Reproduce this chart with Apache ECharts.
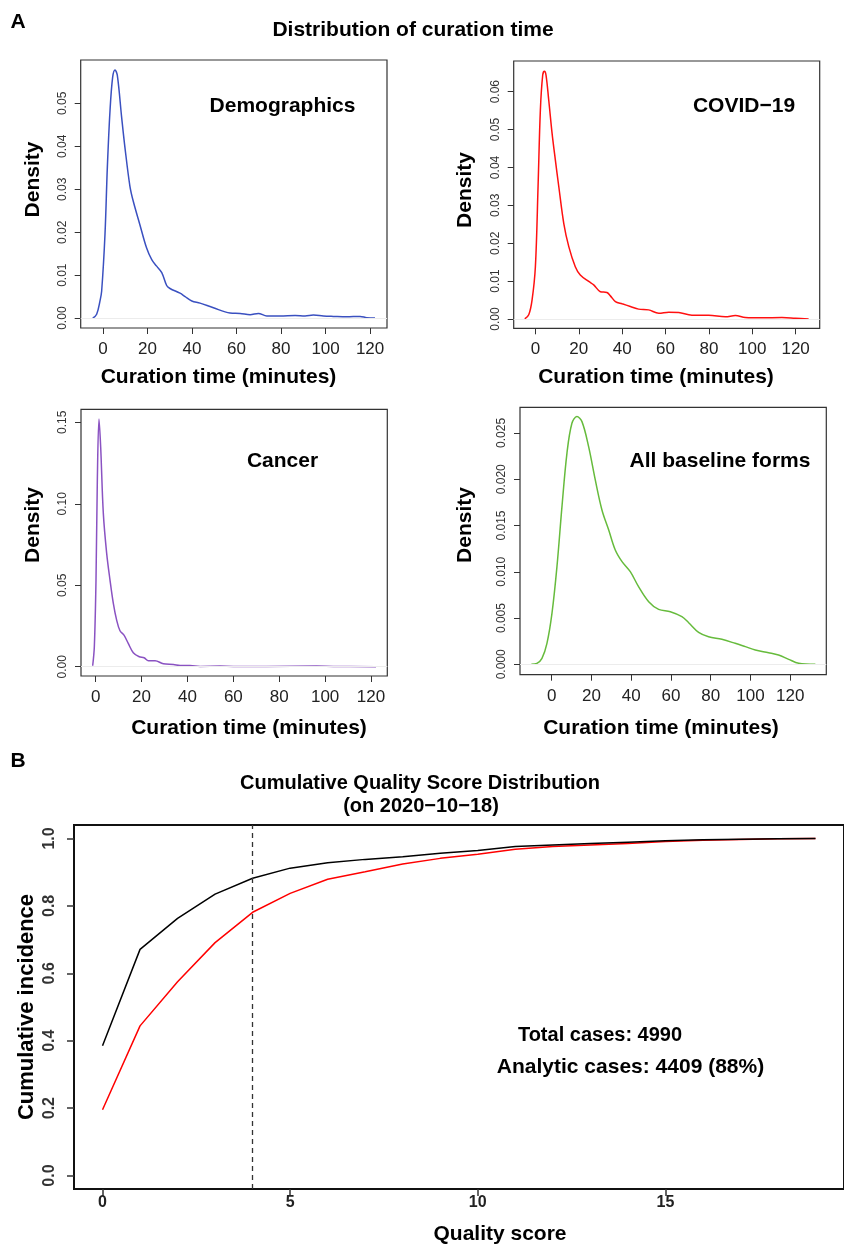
<!DOCTYPE html>
<html><head><meta charset="utf-8">
<script src="https://cdn.jsdelivr.net/npm/echarts@6/dist/echarts.min.js"></script>
<style>html,body{margin:0;padding:0;background:#fff}#c{width:844px;height:1246px}</style>
</head><body><div id="c"></div>
<script>
// ---------- DATA ----------
const demoX = [-4.6,-2.85,-1.35,-0.6,0.9,1.95,3.15,4.34,5.39,6.44,8.39,9.89,12.1,13.6,16.6,19.6,21.9,24.1,26.4,28.6,30.1,34.6,36.9,39.9,43.6,49.6,57.1,61.6,66.1,69.8,73.6,79.6,86.3,90.8,94.5,99.0,103.5,109.5,115.5,118.5,122.2];
const demoY = [0,0.0009,0.0040,0.0063,0.0196,0.0351,0.0483,0.0561,0.0578,0.0565,0.0467,0.0396,0.0307,0.0272,0.0217,0.0163,0.0136,0.0121,0.0106,0.0076,0.0069,0.0058,0.0050,0.0040,0.0035,0.0024,0.0012,0.0011,0.0008,0.0011,0.0005,0.0005,0.0006,0.0005,0.0007,0.0005,0.0004,0.0003,0.0004,0.0001,0];

const covidX = [-4.9,-3.07,-1.54,0,1.23,2.3,3.38,4.15,4.9,6.15,7.7,9.2,10.8,13.1,15.4,18.4,20.7,24.6,26.9,29.96,33.0,34.6,36.9,40.0,43.8,47.6,52.2,56.9,61.5,66.1,72.2,79.9,87.6,92.2,96.8,104.5,113.7,119.9,126.0];
const covidY = [0,0.0011,0.0050,0.0138,0.0349,0.0552,0.0644,0.0654,0.0644,0.0578,0.0490,0.0420,0.0349,0.0252,0.0191,0.0138,0.0116,0.0099,0.0090,0.0072,0.0070,0.0061,0.0046,0.0040,0.0033,0.0026,0.0024,0.0015,0.0018,0.0017,0.0010,0.0010,0.0006,0.0009,0.0004,0.0003,0.0004,0.0002,0];

const cancerX = [-1.3,-0.58,0.15,0.73,1.45,2.18,3.34,4.8,6.25,7.7,9.15,10.6,12.35,14.2,16.4,19.0,21.1,23.0,25.9,29.5,33.9,36.8,41.1,45.5,54.2,60.0,74.5,96.3,103.6,122.2];
const cancerY = [0.0006,0.0123,0.0532,0.1146,0.152,0.135,0.0941,0.0696,0.0532,0.0389,0.0286,0.0221,0.0194,0.0143,0.0086,0.0061,0.0055,0.0037,0.0037,0.0018,0.0014,0.0008,0.0008,0.0002,0.0004,0.0002,0.0002,0.0004,0.0002,0];

const allX = [-10.2,-7.4,-4.86,-2.35,0.17,2.68,5.2,7.7,10.2,12.7,15.25,18.6,21.95,25.3,28.7,32.0,35.4,39.55,43.7,48.8,53.8,59.7,65.5,68.9,73.9,78.9,85.6,92.3,97.4,102.4,109.1,114.1,119.2,124.2,132.6];
const allY = [0,0.0001,0.00065,0.00227,0.0055,0.01055,0.01704,0.0228,0.02604,0.02677,0.02622,0.02352,0.01992,0.01668,0.01452,0.01236,0.0111,0.01001,0.0084,0.00677,0.00594,0.00569,0.00515,0.0045,0.00346,0.00299,0.0027,0.00227,0.00191,0.00155,0.00126,0.00101,0.00054,0.00011,0];

const qualityScores = [0,1,2,3,4,5,6,7,8,9,10,11,12,13,14,15,16,17,18,19];
const totalCum    = [0.385,0.671,0.763,0.835,0.882,0.912,0.928,0.938,0.946,0.956,0.964,0.976,0.981,0.985,0.989,0.993,0.996,0.998,0.999,1.0];
const analyticCum = [0.195,0.444,0.575,0.691,0.781,0.837,0.879,0.901,0.924,0.941,0.953,0.968,0.976,0.981,0.985,0.991,0.995,0.997,0.999,1.0];
const qualityCutoff = 4;

// tick values and labels
const timeTicks = [0,20,40,60,80,100,120];
const timeTickLabels = ['0','20','40','60','80','100','120'];
const demoTicks = [0,0.01,0.02,0.03,0.04,0.05];
const demoTickLabels = ['0.00','0.01','0.02','0.03','0.04','0.05'];
const covidTicks = [0,0.01,0.02,0.03,0.04,0.05,0.06];
const covidTickLabels = ['0.00','0.01','0.02','0.03','0.04','0.05','0.06'];
const cancerTicks = [0,0.05,0.10,0.15];
const cancerTickLabels = ['0.00','0.05','0.10','0.15'];
const allTicks = [0,0.005,0.010,0.015,0.020,0.025];
const allTickLabels = ['0.000','0.005','0.010','0.015','0.020','0.025'];
const scoreTicks = [0,5,10,15];
const scoreTickLabels = ['0','5','10','15'];
const incTicks = [0,0.2,0.4,0.6,0.8,1.0];
const incTickLabels = ['0.0','0.2','0.4','0.6','0.8','1.0'];

// ---------- BUILD ----------
const FONT = 'Liberation Sans, Arial, Helvetica, sans-serif';
function pairs(xs, ys){ return xs.map((x,i)=>[x, ys[i]]); }
function lookup(ticks, labels){
  return function(v){
    let best=0, bd=Infinity;
    ticks.forEach((t,i)=>{const d=Math.abs(t-v); if(d<bd){bd=d;best=i;}});
    return labels[best];
  };
}
function xAx(gi, min, max, ticks, labels, o){
  o = o || {};
  return {
    type:'value', gridIndex:gi, min:min, max:max, position:'bottom',
    axisLine:{show:false, onZero:false}, splitLine:{show:false},
    axisTick:{show:true, inside:false, length:o.tickLen||6, customValues:ticks, lineStyle:{color:'#333', width:o.tickW||1}},
    axisLabel:{show:true, customValues:ticks, formatter:lookup(ticks,labels), margin:o.margin||13,
      fontSize:o.fs||17, fontWeight:o.fw||'normal', color:'#222', fontFamily:FONT}
  };
}
function yAx(gi, min, max, ticks, labels, o){
  o = o || {};
  return {
    type:'value', gridIndex:gi, min:min, max:max, position:'left',
    axisLine:{show:false, onZero:false}, splitLine:{show:false},
    axisTick:{show:true, inside:false, length:o.tickLen||6, customValues:ticks, lineStyle:{color:'#333', width:o.tickW||1}},
    axisLabel:{show:true, customValues:ticks, formatter:lookup(ticks,labels), rotate:90, margin:o.margin||12,
      fontSize:o.fs||12, fontWeight:o.fw||'normal', color:'#333', fontFamily:FONT}
  };
}
function zeroLine(){
  return {silent:true, symbol:['none','none'], label:{show:false},
    lineStyle:{color:'#ececec', width:1, type:'solid'}, data:[{yAxis:0}]};
}
function dens(gi, xs, ys, color){
  return {type:'line', xAxisIndex:gi, yAxisIndex:gi, data:pairs(xs,ys), smooth:0.35,
    showSymbol:false, symbol:'none', lineStyle:{color:color, width:1.5}, markLine:zeroLine(), z:3};
}
function txt(t, x, y, fs, rot){
  return {type:'text', x:x, y:y, rotation:rot||0, silent:true,
    style:{text:t, font:'bold '+fs+'px '+FONT, fill:'#000', align:'center', verticalAlign:'middle',
      textAlign:'center', textVerticalAlign:'middle'}};
}

const boxA = {show:true, borderColor:'#333', borderWidth:1.2, backgroundColor:'transparent'};
const option = {
  animation:false,
  backgroundColor:'#fff',
  grid:[
    Object.assign({left:80.7, top:60, width:306.3, height:268}, boxA),
    Object.assign({left:513.7, top:61, width:306, height:267.3}, boxA),
    Object.assign({left:81, top:409.3, width:306.3, height:266.7}, boxA),
    Object.assign({left:520, top:407.3, width:306.3, height:267.4}, boxA),
    {left:74, top:825, width:780, height:364, show:true, borderColor:'#111', borderWidth:2, backgroundColor:'transparent'}
  ],
  xAxis:[
    xAx(0, -10.02, 127.6, timeTicks, timeTickLabels),
    xAx(1, -10.0, 131.1, timeTicks, timeTickLabels),
    xAx(2, -6.39, 127.1, timeTicks, timeTickLabels),
    xAx(3, -15.9, 138.1, timeTicks, timeTickLabels),
    xAx(4, -0.76, 19.76, scoreTicks, scoreTickLabels, {fs:16, fw:'bold', margin:6, tickLen:7, tickW:1.5})
  ],
  yAxis:[
    yAx(0, -0.0023, 0.0601, demoTicks, demoTickLabels),
    yAx(1, -0.00246, 0.0681, covidTicks, covidTickLabels),
    yAx(2, -0.0057, 0.158, cancerTicks, cancerTickLabels),
    yAx(3, -0.00112, 0.02777, allTicks, allTickLabels),
    yAx(4, -0.04, 1.04, incTicks, incTickLabels, {fs:16, fw:'bold', margin:16, tickLen:7, tickW:1.5})
  ],
  series:[
    dens(0, demoX, demoY, '#3a50c0'),
    dens(1, covidX, covidY, '#ff1010'),
    dens(2, cancerX, cancerY, '#8a52c2'),
    dens(3, allX, allY, '#66bb3c'),
    {type:'line', xAxisIndex:4, yAxisIndex:4, data:pairs(qualityScores,totalCum), showSymbol:false, symbol:'none',
      lineStyle:{color:'#000', width:1.5}, z:4,
      markLine:{silent:true, symbol:['none','none'], label:{show:false},
        lineStyle:{color:'#333', width:1.3, type:[5,4]}, data:[{xAxis:qualityCutoff}]}},
    {type:'line', xAxisIndex:4, yAxisIndex:4, data:pairs(qualityScores,analyticCum), showSymbol:false, symbol:'none',
      lineStyle:{color:'#ff0000', width:1.5}, z:3}
  ],
  graphic:[
    txt('A', 18, 22, 21),
    txt('Distribution of curation time', 413, 30, 21),
    txt('Demographics', 282.5, 106, 21),
    txt('COVID\u221219', 744, 106, 21),
    txt('Cancer', 282.5, 461, 21),
    txt('All baseline forms', 720, 461, 21),
    txt('Density', 33, 179.5, 21, Math.PI/2),
    txt('Density', 465, 190, 21, Math.PI/2),
    txt('Density', 33, 525, 21, Math.PI/2),
    txt('Density', 465.3, 525, 21, Math.PI/2),
    txt('Curation time (minutes)', 218.5, 377, 21),
    txt('Curation time (minutes)', 656, 377, 21),
    txt('Curation time (minutes)', 249, 728, 21),
    txt('Curation time (minutes)', 661, 728, 21),
    txt('B', 18, 761, 21),
    txt('Cumulative Quality Score Distribution', 420, 783, 20),
    txt('(on 2020\u221210\u221218)', 421, 806, 20),
    txt('Cumulative incidence', 27, 1007, 22, Math.PI/2),
    txt('Quality score', 500, 1234, 21),
    txt('Total cases: 4990', 600, 1035, 20),
    txt('Analytic cases: 4409 (88%)', 630.5, 1067, 21)
  ]
};
const chart = echarts.init(document.getElementById('c'), null, {renderer:'canvas'});
chart.setOption(option);
</script></body></html>
